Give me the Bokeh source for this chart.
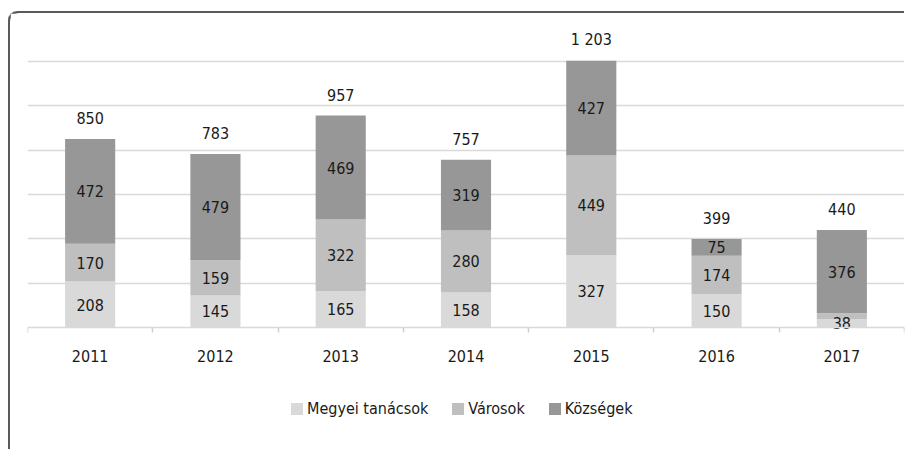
from bokeh.plotting import figure
from bokeh.models import ColumnDataSource, FixedTicker, Range1d, Legend, LegendItem
from bokeh.core.properties import value
from bokeh.embed import file_html
from bokeh.resources import INLINE

years = ["2011", "2012", "2013", "2014", "2015", "2016", "2017"]
megyei = [208, 145, 165, 158, 327, 150, 38]
varosok = [170, 159, 322, 280, 449, 174, 26]
kozsegek = [472, 479, 469, 319, 427, 75, 376]
totals = [850, 783, 957, 757, 1203, 399, 440]
series_names = ["Megyei tanácsok", "Városok", "Községek"]
colors = ["#d9d9d9", "#bfbfbf", "#979797"]
grid_ticks = [200, 400, 600, 800, 1000, 1200]

FONT = "DejaVu Sans Condensed"
FS = "16px"
TXT = "#1a1a1a"

xs = [i + 0.5 for i in range(len(years))]
src = ColumnDataSource(dict(x=xs, m=megyei, v=varosok, k=kozsegek))

p = figure(width=896, height=438, output_backend="svg", toolbar_location=None,
           x_range=Range1d(0, len(years)), y_range=Range1d(-559, 1394),
           min_border_left=17, min_border_right=2, min_border_top=5, min_border_bottom=0)
p.margin = (13, 0, 0, 10)
p.styles = {"box-shadow": "-2px -2px 0px 0px #5a5a5a", "border-top-left-radius": "9px"}
p.outline_line_color = None
p.background_fill_color = "white"

rs = p.vbar_stack(["m", "v", "k"], x="x", width=0.4, source=src, color=colors, line_color=None)

# grid
p.yaxis.visible = False
p.ygrid.ticker = FixedTicker(ticks=grid_ticks)
p.ygrid.grid_line_color = "#d9d9d9"
p.ygrid.grid_line_width = 1.5
p.xgrid.visible = False

ax = p.xaxis[0]
ax.fixed_location = 0
ax.ticker = FixedTicker(ticks=xs, minor_ticks=list(range(len(years) + 1)))
ax.major_label_overrides = {x: y for x, y in zip(xs, years)}
ax.major_tick_line_color = None
ax.major_tick_out = 0
ax.major_tick_in = 0
ax.minor_tick_line_color = "#d0d0d0"
ax.minor_tick_line_width = 1.5
ax.minor_tick_out = 5
ax.minor_tick_in = 0
ax.axis_line_color = "#d9d9d9"
ax.axis_line_width = 1.5
ax.major_label_text_font = FONT
ax.major_label_text_font_size = FS
ax.major_label_text_color = TXT
ax.major_label_standoff = 17

# segment labels
lx, ly, lt = [], [], []
for i in range(len(years)):
    base = 0
    for vals in (megyei, varosok, kozsegek):
        v = vals[i]
        if v >= 30:
            lx.append(xs[i]); ly.append(base + v / 2); lt.append(str(v))
        base += v
p.text(x=lx, y=ly, text=lt, text_align="center", text_baseline="middle",
       text_font=value(FONT), text_font_size=FS, text_color=TXT)

# totals
tops = [a + b + c for a, b, c in zip(megyei, varosok, kozsegek)]
tot_txt = [f"{t:,}".replace(",", " ") for t in totals]
p.text(x=xs, y=tops, text=tot_txt, text_align="center", text_baseline="alphabetic",
       y_offset=-21, text_font=value(FONT), text_font_size=FS, text_color=TXT)

legend = Legend(items=[LegendItem(label=n, renderers=[r]) for n, r in zip(series_names, rs)],
                orientation="horizontal", location=(262, 33),
                label_text_font=FONT, label_text_font_size=FS, label_text_color=TXT,
                glyph_width=15, glyph_height=15, label_standoff=3, spacing=22,
                border_line_color=None, background_fill_alpha=0, margin=0, padding=0)
p.add_layout(legend)

open("out.html", "w").write(file_html(p, INLINE))
